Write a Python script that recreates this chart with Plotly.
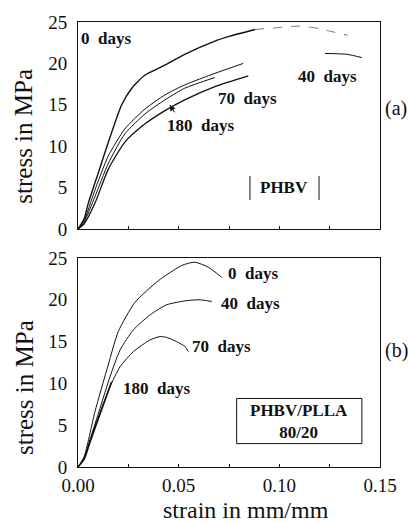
import plotly.graph_objects as go

# ---------------- data (a) PHBV ----------------
a0_strain = [0, 0.003, 0.0051, 0.0101, 0.0151, 0.0217, 0.0267, 0.0333, 0.0416, 0.053, 0.068, 0.0755, 0.088]
a0_stress = [0, 1.2, 3.1, 6.8, 10.5, 15.0, 17.0, 18.6, 19.6, 21.1, 22.7, 23.3, 24.1]
a0_tail_strain = [0.088, 0.0987, 0.110, 0.120, 0.125, 0.134]
a0_tail_stress = [24.1, 24.3, 24.5, 24.2, 23.9, 23.4]

a40_strain = [0, 0.003, 0.0084, 0.015, 0.0233, 0.0333, 0.0432, 0.053, 0.068, 0.0821, None, 0.1227, 0.1335, 0.141]
a40_stress = [0, 1.0, 4.7, 8.8, 12.1, 14.5, 16.2, 17.4, 18.8, 20.0, None, 21.2, 21.1, 20.7]

a70_strain = [0, 0.003, 0.0084, 0.015, 0.0233, 0.0333, 0.0432, 0.053, 0.068]
a70_stress = [0, 0.8, 3.9, 7.9, 11.5, 13.9, 15.6, 17.0, 18.3]

a180_strain = [0, 0.003, 0.0084, 0.015, 0.0233, 0.0333, 0.0432, 0.053, 0.068, 0.0846]
a180_stress = [0, 0.6, 3.1, 7.2, 10.5, 12.7, 14.3, 15.6, 17.2, 18.5]

# ---------------- data (b) PHBV/PLLA 80/20 ----------------
b0_strain = [0, 0.003, 0.0084, 0.015, 0.020, 0.0283, 0.040, 0.0515, 0.058, 0.0647, 0.0714]
b0_stress = [0, 1.2, 6.6, 12.2, 16.2, 19.7, 22.3, 24.1, 24.5, 23.9, 22.7]

b40_strain = [0, 0.003, 0.006, 0.0109, 0.0159, 0.0209, 0.0275, 0.0358, 0.044, 0.054, 0.0606, 0.0664]
b40_stress = [0, 1.1, 3.3, 7.0, 10.8, 14.0, 16.4, 18.2, 19.4, 19.9, 20.0, 19.8]

b70_strain = [0, 0.003, 0.006, 0.0109, 0.0159, 0.0209, 0.0275, 0.0358, 0.0407, 0.044, 0.049, 0.0532, 0.0548]
b70_stress = [0, 1.0, 3.2, 6.5, 9.6, 12.0, 13.8, 15.2, 15.6, 15.5, 15.0, 14.4, 13.8]

b180_strain = [0, 0.003, 0.006, 0.0109, 0.0167]
b180_stress = [0, 0.9, 3.0, 6.3, 10.2]

x_ticks = [0.00, 0.05, 0.10, 0.15]
x_tick_text = ["0.00", "0.05", "0.10", "0.15"]
y_ticks = [0, 5, 10, 15, 20, 25]

SERIF = "Liberation Serif, Times New Roman, DejaVu Serif, serif"
BLACK = "#111111"

W, H = 409, 523
ML, MR, MT, MB = 78, 29, 22, 56
PH = H - MT - MB  # plot-area height in px


def py(page_y):
    """paper y from page pixel y"""
    return (H - MB - page_y) / PH


def px(page_x):
    return (page_x - ML) / (W - ML - MR)


fig = go.Figure()


def line(x, y, xa, ya, width=1.0, color=BLACK, dash="solid"):
    fig.add_trace(go.Scatter(x=x, y=y, xaxis=xa, yaxis=ya, mode="lines",
                             line=dict(color=color, width=width, dash=dash, shape="spline", smoothing=0.6),
                             connectgaps=False, showlegend=False, hoverinfo="skip"))


line(a0_strain, a0_stress, "x", "y", 1.4)
line(a0_tail_strain, a0_tail_stress, "x", "y", 1.0, "#777777", "dash")
line(a40_strain, a40_stress, "x", "y", 1.0)
line(a70_strain, a70_stress, "x", "y", 1.0)
line(a180_strain, a180_stress, "x", "y", 1.3)

line(b0_strain, b0_stress, "x2", "y2", 1.0)
line(b40_strain, b40_stress, "x2", "y2", 1.0)
line(b70_strain, b70_stress, "x2", "y2", 1.0)
line(b180_strain, b180_stress, "x2", "y2", 1.6)

axis_common = dict(range=[0, 0.15], showline=True, linecolor=BLACK, linewidth=1, mirror=True,
                   showgrid=False, zeroline=False, ticks="inside", ticklen=3, tickcolor=BLACK,
                   tickfont=dict(family=SERIF, size=19, color=BLACK))
yaxis_common = dict(range=[0, 25], showline=True, linecolor=BLACK, linewidth=1, mirror=True,
                    showgrid=False, zeroline=False, ticks="", tickvals=y_ticks,
                    ticklabelstandoff=6,
                    tickfont=dict(family=SERIF, size=19, color=BLACK))

fig.update_layout(
    width=W, height=H,
    margin=dict(l=ML, r=MR, t=MT, b=MB),
    paper_bgcolor="white", plot_bgcolor="white",
    xaxis=dict(axis_common, anchor="y", domain=[0, 1], tickvals=[0.025, 0.05, 0.075, 0.1, 0.125],
               showticklabels=False),
    yaxis=dict(yaxis_common, anchor="x", domain=[py(229), 1]),
    xaxis2=dict(axis_common, anchor="y2", domain=[0, 1], tickvals=x_ticks, ticktext=x_tick_text,
                ticklabelstandoff=1,
                minor=dict(tickvals=[0.025, 0.075, 0.125], ticks="inside", ticklen=3, tickcolor=BLACK)),
    yaxis2=dict(yaxis_common, anchor="x2", domain=[0, py(258)]),
)

lab = dict(family=SERIF, size=17, color=BLACK)
anns = [
    # top panel labels
    dict(x=0.0139, y=23.0, xref="x", yref="y", text="<b>0\u00a0\u00a0days</b>"),
    dict(x=0.1237, y=18.4, xref="x", yref="y", text="<b>40\u00a0\u00a0days</b>"),
    dict(x=0.084, y=15.8, xref="x", yref="y", text="<b>70\u00a0\u00a0days</b>"),
    dict(x=0.0606, y=12.5, xref="x", yref="y", text="<b>180\u00a0\u00a0days</b>"),
    dict(x=0.1025, y=5.0, xref="x", yref="y", text="<b>PHBV</b>"),
    # bottom panel labels
    dict(x=0.087, y=23.1, xref="x2", yref="y2", text="<b>0\u00a0\u00a0days</b>"),
    dict(x=0.0855, y=19.6, xref="x2", yref="y2", text="<b>40\u00a0\u00a0days</b>"),
    dict(x=0.0714, y=14.4, xref="x2", yref="y2", text="<b>70\u00a0\u00a0days</b>"),
    dict(x=0.039, y=9.4, xref="x2", yref="y2", text="<b>180\u00a0\u00a0days</b>"),
    dict(x=0.11, y=5.5, xref="x2", yref="y2", text="<b>PHBV/PLLA</b><br><b>80/20</b>"),
]
for a in anns:
    fig.add_annotation(showarrow=False, font=lab, xanchor="center", yanchor="middle", **a)

# arrow in top panel
fig.add_annotation(x=0.0455, y=15.0, xref="x", yref="y", ax=6, ay=9, text="",
                   showarrow=True, arrowhead=2, arrowsize=1.2, arrowwidth=1, arrowcolor=BLACK)

# panel letters
big = dict(family=SERIF, size=20, color=BLACK)
for txt, yy in (("(a)", 108), ("(b)", 350)):
    fig.add_annotation(x=px(396), y=py(yy), xref="paper", yref="paper", text=txt, showarrow=False,
                       font=big, xanchor="center", yanchor="middle")

# axis titles
title_font = dict(family=SERIF, size=25, color=BLACK)
for yy in (136.7, 388):
    fig.add_annotation(x=px(24), y=py(yy), xref="paper", yref="paper", text="stress in MPa",
                       textangle=-90, showarrow=False, font=title_font, xanchor="center", yanchor="middle")
fig.add_annotation(x=px(245.5), y=py(510), xref="paper", yref="paper", text="strain in mm/mm",
                   showarrow=False, font=dict(family=SERIF, size=24, color=BLACK),
                   xanchor="center", yanchor="middle")

# PHBV bars and PHBV/PLLA box
fig.add_shape(type="line", xref="x", yref="y", x0=0.0854, x1=0.0854, y0=3.5, y1=6.4,
              line=dict(color=BLACK, width=1))
fig.add_shape(type="line", xref="x", yref="y", x0=0.1197, x1=0.1197, y0=3.5, y1=6.4,
              line=dict(color=BLACK, width=1))
fig.add_shape(type="rect", xref="x2", yref="y2", x0=0.0788, x1=0.141, y0=2.8, y1=8.2,
              line=dict(color=BLACK, width=1))

# remove the browser's default 8px body margin so the 409x523 figure fills the window exactly
fig.write_html("out.html", config={"displayModeBar": False},
               post_script="document.body.style.margin='0px';document.body.style.overflow='hidden';")
